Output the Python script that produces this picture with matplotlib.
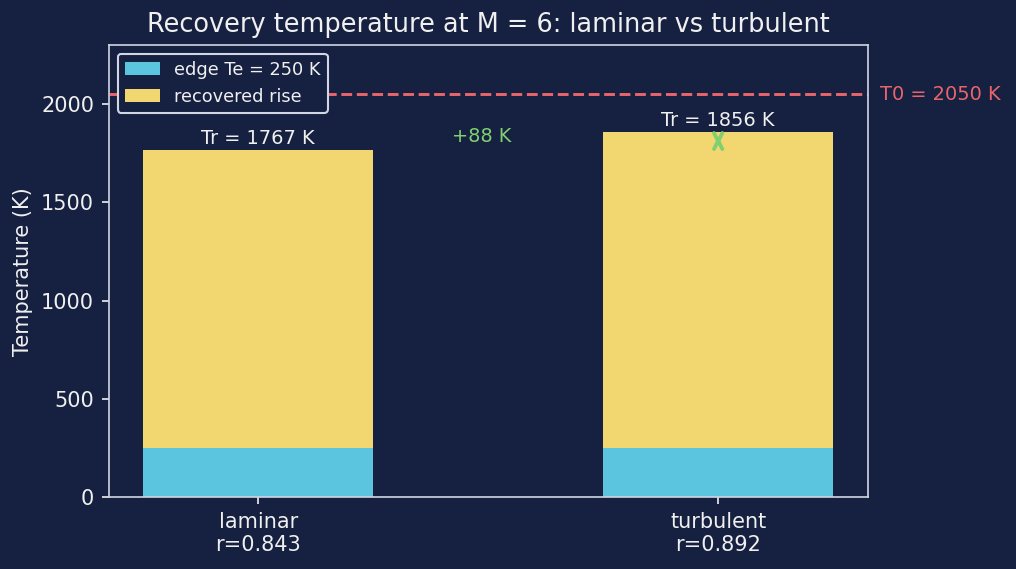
import matplotlib
matplotlib.use("Agg")
import matplotlib.pyplot as plt

# data
regimes = ["laminar", "turbulent"]
r_factor = [0.843, 0.892]
edge_T = [250, 250]
recovered_T = [1767.4, 1855.6]
T0 = 2050

BG = "#162040"
FG = "#f0f0f0"
CYAN = "#5bc4de"
YELLOW = "#f2d66f"
RED = "#e8666b"
GREEN = "#7fd070"


def draw():
    fig, ax = plt.subplots(figsize=(1016 / 150, 569 / 150), dpi=150)
    fig.patch.set_facecolor(BG)
    ax.set_facecolor(BG)

    x = list(range(len(regimes)))
    rise = [tr - te for tr, te in zip(recovered_T, edge_T)]
    ax.bar(x, edge_T, width=0.5, color=CYAN, label="edge Te = %d K" % edge_T[0])
    ax.bar(x, rise, width=0.5, bottom=edge_T, color=YELLOW, label="recovered rise")

    for xi, tr in zip(x, recovered_T):
        ax.text(xi, tr + 10, "Tr = %.0f K" % tr, ha="center", va="bottom",
                color=FG, fontsize=9.3)

    ax.axhline(T0, color=RED, linestyle="--", linewidth=1.4)
    ax.text(1.352, T0, "T0 = %d K" % T0, color=RED, fontsize=9.3,
            va="center", ha="left", clip_on=False)

    # difference arrow on turbulent bar
    ax.annotate("", xy=(1, recovered_T[1]), xytext=(1, recovered_T[0]),
                arrowprops=dict(arrowstyle="<->", color=GREEN, lw=1.8))
    ax.text(0.485, 1835, "+%.0f K" % (recovered_T[1] - recovered_T[0]),
            color=GREEN, fontsize=9.3, ha="center", va="center")

    ax.set_ylim(0, 2300)
    ax.set_xticks(x)
    ax.set_xticklabels(["%s\nr=%.3f" % (n, r) for n, r in zip(regimes, r_factor)])
    ax.set_ylabel("Temperature (K)", color=FG, fontsize=10)
    ax.set_title("Recovery temperature at M = 6: laminar vs turbulent",
                 color=FG, fontsize=12.3)
    ax.tick_params(colors=FG, labelsize=10)
    for s in ax.spines.values():
        s.set_color("#d0d6e4")

    ax.legend(loc="upper left", fontsize=8.5, facecolor=BG,
              edgecolor="#d0d6e4", labelcolor=FG, framealpha=1)

    fig.subplots_adjust(left=0.107, right=0.854, top=0.921, bottom=0.126)
    fig.savefig("out.png", dpi=150, facecolor=BG)


if __name__ == "__main__":
    draw()
